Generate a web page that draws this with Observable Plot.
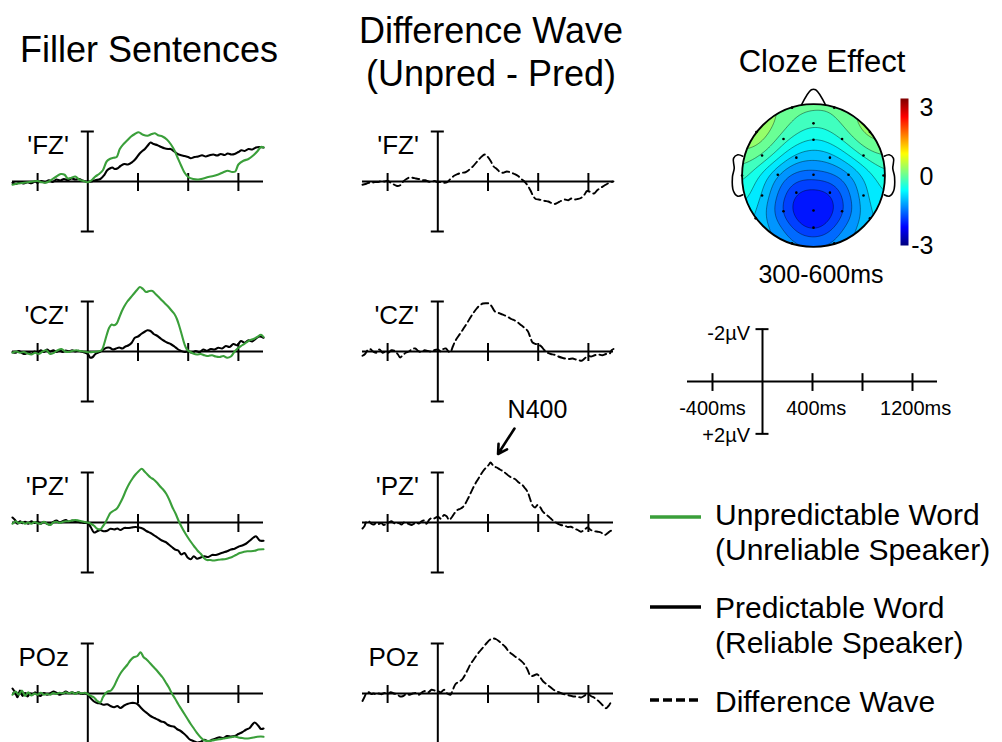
<!DOCTYPE html>
<html><head><meta charset="utf-8">
<script src="https://cdn.jsdelivr.net/npm/d3@7"></script>
<script src="https://cdn.jsdelivr.net/npm/@observablehq/plot@0.6"></script>
<style>
html,body{margin:0;padding:0;background:#fff;}
#root{position:relative;width:1002px;height:742px;overflow:hidden;font-family:"Liberation Sans",Arial,sans-serif;color:#000;background:#fff;}
#root svg{position:absolute;overflow:visible;}
</style></head><body><div id="root"></div>
<script>
// ---------- DATA (time ms, amplitude µV; negative plotted up) ----------
const electrodeLabels = ["'FZ'", "'CZ'", "'PZ'", "POz"];
const xTicks = [-400, 400, 800, 1200];
const timeRange = [-600, 1400];

const unpredFZ = [[-600,0.13],[-560,0.08],[-520,0.06],[-480,0.03],[-440,0.0],[-400,-0.02],[-370,0.03],[-340,0.05],[-310,0.0],[-280,-0.1],[-250,-0.2],[-215,-0.3],[-185,-0.27],[-160,-0.12],[-130,-0.15],[-100,-0.2],[-70,-0.08],[-40,-0.03],[0,0.03],[30,-0.05],[60,-0.2],[90,-0.3],[120,-0.45],[150,-0.8],[175,-0.9],[205,-0.95],[230,-0.98],[255,-1.3],[285,-1.5],[315,-1.65],[345,-1.8],[375,-1.9],[405,-1.97],[440,-1.87],[475,-1.83],[510,-1.9],[535,-1.93],[560,-1.85],[595,-1.8],[630,-1.68],[660,-1.5],[690,-1.25],[715,-0.96],[745,-0.62],[770,-0.36],[800,-0.18],[840,-0.1],[880,-0.08],[920,-0.12],[960,-0.18],[1000,-0.22],[1040,-0.28],[1080,-0.37],[1115,-0.43],[1150,-0.38],[1175,-0.4],[1200,-0.68],[1240,-0.83],[1280,-0.9],[1320,-1.05],[1350,-1.2],[1380,-1.38],[1400,-1.36]];
const predFZ = [[-600,0.05],[-570,0.1],[-540,0.02],[-510,0.08],[-480,0.03],[-450,0.07],[-420,0.0],[-400,0.05],[-370,-0.02],[-340,0.04],[-310,-0.05],[-280,0.02],[-250,-0.08],[-220,-0.04],[-190,-0.1],[-160,-0.06],[-130,-0.12],[-100,-0.08],[-70,-0.1],[-40,-0.04],[0,0.02],[30,0.0],[60,-0.05],[100,-0.1],[130,-0.25],[155,-0.45],[175,-0.52],[195,-0.56],[215,-0.5],[235,-0.52],[260,-0.62],[290,-0.7],[320,-0.68],[355,-0.78],[380,-0.9],[410,-1.1],[430,-1.2],[455,-1.3],[480,-1.45],[500,-1.56],[525,-1.5],[555,-1.45],[585,-1.38],[610,-1.33],[640,-1.3],[660,-1.3],[690,-1.2],[715,-1.1],[745,-1.05],[770,-1.02],[800,-0.98],[820,-0.93],[850,-0.98],[880,-1.0],[910,-1.05],[940,-1.0],[970,-1.05],[1000,-1.08],[1030,-1.04],[1060,-1.1],[1090,-1.06],[1115,-1.12],[1145,-1.08],[1170,-1.1],[1200,-1.18],[1225,-1.25],[1250,-1.22],[1280,-1.3],[1310,-1.28],[1340,-1.36],[1365,-1.38],[1400,-1.36]];
const unpredCZ = [[-600,0.05],[-570,0.0],[-540,0.05],[-510,0.02],[-480,0.08],[-450,0.12],[-420,0.05],[-390,0.1],[-360,0.0],[-330,-0.05],[-300,0.1],[-270,0.05],[-240,-0.05],[-210,-0.1],[-180,0.0],[-150,0.02],[-120,-0.03],[-90,-0.05],[-60,-0.02],[-30,0.0],[0,0.03],[40,0.02],[80,0.0],[110,-0.05],[130,-0.3],[150,-0.65],[170,-0.95],[190,-1.08],[210,-1.05],[230,-1.12],[250,-1.35],[270,-1.6],[290,-1.8],[315,-2.0],[340,-2.15],[365,-2.3],[390,-2.45],[415,-2.58],[440,-2.5],[465,-2.38],[490,-2.42],[515,-2.42],[540,-2.3],[565,-2.18],[590,-2.05],[615,-1.92],[640,-1.8],[665,-1.65],[690,-1.5],[710,-1.3],[730,-1.0],[750,-0.65],[770,-0.3],[790,-0.08],[810,0.0],[840,0.08],[870,0.12],[900,0.1],[930,0.15],[960,0.18],[990,0.15],[1020,0.2],[1050,0.22],[1080,0.18],[1110,0.25],[1140,0.2],[1170,0.0],[1200,-0.15],[1230,-0.25],[1260,-0.35],[1290,-0.45],[1320,-0.5],[1350,-0.58],[1380,-0.67],[1400,-0.58]];
const predCZ = [[-600,0.02],[-575,0.05],[-550,-0.02],[-525,0.06],[-500,0.1],[-475,0.03],[-450,0.1],[-425,0.0],[-400,0.05],[-375,-0.05],[-350,0.02],[-325,-0.08],[-300,0.0],[-275,-0.05],[-250,0.02],[-225,-0.05],[-200,0.02],[-175,-0.04],[-150,0.0],[-125,-0.05],[-100,0.0],[-75,-0.03],[-50,0.0],[-20,0.05],[0,0.1],[20,0.25],[40,0.22],[60,0.1],[80,0.05],[100,0.0],[125,-0.08],[150,-0.15],[175,-0.15],[200,-0.08],[225,-0.12],[250,-0.16],[275,-0.12],[300,-0.2],[325,-0.25],[350,-0.35],[375,-0.55],[400,-0.6],[425,-0.7],[450,-0.78],[475,-0.85],[500,-0.82],[525,-0.7],[555,-0.62],[585,-0.5],[610,-0.42],[635,-0.35],[660,-0.3],[690,-0.2],[715,-0.1],[740,-0.03],[770,0.02],[800,0.0],[830,0.05],[860,-0.02],[890,0.03],[920,-0.08],[950,-0.03],[980,-0.1],[1010,-0.08],[1040,-0.15],[1070,-0.12],[1100,-0.22],[1130,-0.18],[1160,-0.3],[1190,-0.25],[1220,-0.42],[1250,-0.35],[1280,-0.45],[1310,-0.4],[1340,-0.52],[1370,-0.6],[1400,-0.55]];
const unpredPZ = [[-600,0.05],[-575,-0.05],[-550,0.03],[-525,-0.02],[-500,0.05],[-475,0.0],[-450,0.05],[-425,-0.02],[-400,0.03],[-375,0.05],[-350,-0.03],[-325,0.05],[-300,0.1],[-275,0.0],[-250,-0.03],[-225,0.02],[-200,-0.02],[-175,-0.05],[-150,-0.05],[-125,-0.08],[-100,-0.1],[-75,-0.08],[-50,-0.05],[-25,-0.02],[0,0.0],[25,0.05],[50,0.13],[75,0.25],[100,0.27],[120,0.15],[140,0.0],[160,-0.2],[180,-0.38],[205,-0.47],[230,-0.55],[255,-0.75],[280,-1.0],[305,-1.3],[330,-1.55],[355,-1.75],[380,-1.92],[405,-2.05],[430,-2.15],[450,-2.05],[475,-1.92],[500,-1.8],[525,-1.72],[550,-1.6],[575,-1.45],[600,-1.32],[625,-1.15],[650,-0.9],[675,-0.6],[700,-0.35],[725,-0.05],[750,0.2],[775,0.42],[800,0.62],[825,0.8],[850,0.97],[875,1.13],[900,1.25],[925,1.42],[950,1.5],[975,1.5],[1000,1.52],[1030,1.5],[1060,1.48],[1090,1.47],[1120,1.43],[1150,1.38],[1180,1.3],[1210,1.22],[1240,1.18],[1270,1.15],[1300,1.15],[1330,1.13],[1360,1.08],[1400,1.07]];
const predPZ = [[-600,-0.2],[-580,-0.1],[-560,0.05],[-540,-0.05],[-520,0.03],[-500,-0.03],[-475,0.05],[-450,-0.05],[-425,0.02],[-400,-0.03],[-375,0.05],[-350,-0.02],[-325,0.05],[-300,0.08],[-275,-0.02],[-250,-0.08],[-225,0.0],[-200,-0.05],[-175,-0.1],[-150,-0.02],[-125,-0.08],[-100,-0.05],[-75,-0.02],[-50,0.0],[-25,0.02],[0,0.03],[25,0.2],[50,0.4],[75,0.35],[100,0.3],[125,0.35],[155,0.33],[180,0.25],[210,0.28],[235,0.24],[260,0.3],[290,0.22],[320,0.22],[350,0.2],[380,0.18],[410,0.2],[440,0.25],[470,0.35],[500,0.42],[530,0.52],[560,0.62],[590,0.72],[620,0.78],[645,0.88],[670,0.98],[695,1.08],[720,1.12],[745,1.28],[770,1.22],[795,1.4],[820,1.47],[845,1.35],[870,1.45],[900,1.4],[930,1.35],[960,1.38],[990,1.3],[1020,1.3],[1050,1.25],[1080,1.2],[1110,1.15],[1140,1.08],[1170,1.05],[1200,0.97],[1230,0.92],[1260,0.85],[1290,0.73],[1320,0.6],[1340,0.55],[1370,0.72],[1400,0.73]];
const unpredPOz = [[-600,0.05],[-575,-0.08],[-550,0.05],[-525,-0.12],[-500,0.1],[-475,-0.05],[-450,0.08],[-425,0.0],[-400,0.05],[-375,-0.03],[-350,0.05],[-325,0.02],[-300,0.05],[-275,-0.02],[-250,0.02],[-225,-0.03],[-200,0.0],[-175,-0.05],[-150,0.0],[-125,-0.05],[-100,0.02],[-75,-0.05],[-50,0.0],[-25,-0.03],[0,0.02],[25,0.1],[50,0.16],[75,0.3],[100,0.36],[120,0.15],[140,0.0],[160,-0.08],[185,-0.12],[210,-0.3],[235,-0.57],[260,-0.8],[290,-1.0],[315,-1.15],[340,-1.33],[365,-1.45],[395,-1.5],[420,-1.65],[445,-1.45],[470,-1.35],[495,-1.22],[520,-1.08],[545,-0.95],[570,-0.8],[595,-0.65],[620,-0.45],[645,-0.25],[670,0.0],[695,0.2],[720,0.42],[745,0.62],[770,0.82],[795,1.02],[820,1.22],[845,1.4],[870,1.58],[900,1.76],[930,1.88],[960,1.9],[990,1.88],[1020,1.85],[1050,1.83],[1080,1.8],[1110,1.78],[1140,1.75],[1170,1.72],[1200,1.76],[1230,1.78],[1260,1.8],[1290,1.79],[1320,1.76],[1350,1.73],[1380,1.72],[1400,1.73]];
const predPOz = [[-600,-0.2],[-580,-0.05],[-560,0.15],[-540,-0.12],[-520,0.1],[-500,-0.02],[-480,0.12],[-460,0.0],[-440,0.05],[-420,-0.05],[-400,0.05],[-375,0.1],[-350,-0.02],[-325,0.05],[-300,0.0],[-275,-0.08],[-250,-0.03],[-225,0.05],[-200,0.0],[-175,-0.08],[-150,-0.02],[-125,-0.05],[-100,0.0],[-75,-0.05],[-50,0.02],[-25,0.0],[0,0.05],[25,0.2],[50,0.32],[75,0.38],[100,0.4],[125,0.45],[155,0.43],[180,0.5],[210,0.55],[235,0.5],[260,0.58],[290,0.48],[315,0.42],[345,0.38],[370,0.38],[395,0.42],[420,0.55],[450,0.7],[475,0.8],[500,0.9],[530,0.98],[560,1.05],[585,1.12],[610,1.15],[635,1.25],[660,1.3],[685,1.32],[710,1.42],[740,1.5],[765,1.6],[790,1.72],[810,1.83],[840,1.9],[870,1.96],[900,1.93],[930,1.85],[960,1.92],[990,1.85],[1020,1.8],[1050,1.75],[1080,1.78],[1110,1.7],[1140,1.72],[1170,1.7],[1200,1.62],[1230,1.55],[1260,1.45],[1290,1.38],[1310,1.25],[1330,1.16],[1360,1.3],[1380,1.42],[1400,1.4]];

const diffFZ = [[-600,0.13],[-575,0.1],[-550,0.05],[-525,0.05],[-500,0.02],[-475,0.02],[-450,-0.02],[-425,0.0],[-400,-0.03],[-375,0.05],[-350,0.12],[-325,0.18],[-300,0.15],[-275,0.0],[-250,-0.1],[-225,-0.16],[-200,-0.15],[-175,-0.12],[-150,-0.1],[-125,-0.05],[-100,-0.05],[-75,0.0],[-50,0.02],[-25,-0.02],[0,0.03],[25,0.02],[50,0.05],[75,0.03],[100,-0.1],[130,-0.23],[160,-0.3],[190,-0.35],[215,-0.36],[245,-0.45],[275,-0.58],[305,-0.75],[330,-0.9],[355,-1.02],[375,-1.08],[395,-1.0],[420,-0.83],[445,-0.6],[470,-0.5],[495,-0.38],[520,-0.35],[550,-0.4],[580,-0.36],[610,-0.3],[640,-0.22],[665,-0.1],[690,0.0],[715,0.15],[740,0.37],[760,0.58],[780,0.7],[805,0.72],[830,0.75],[855,0.78],[880,0.8],[905,0.86],[930,0.9],[955,0.85],[980,0.78],[1010,0.72],[1040,0.75],[1065,0.68],[1090,0.72],[1115,0.7],[1140,0.66],[1165,0.55],[1190,0.38],[1215,0.42],[1245,0.48],[1270,0.35],[1300,0.25],[1330,0.15],[1355,0.08],[1380,0.02],[1400,0.0]];
const diffCZ = [[-600,0.17],[-580,0.1],[-560,-0.05],[-540,-0.1],[-515,0.0],[-490,0.05],[-465,-0.08],[-440,0.05],[-415,0.0],[-395,0.05],[-370,-0.05],[-345,-0.03],[-320,0.1],[-300,0.24],[-280,0.15],[-255,0.05],[-230,0.0],[-205,-0.1],[-180,-0.12],[-155,-0.02],[-130,0.03],[-105,-0.05],[-80,-0.02],[-55,0.0],[-30,-0.05],[0,-0.08],[25,0.0],[45,-0.1],[65,-0.12],[85,0.0],[100,0.02],[120,-0.2],[140,-0.43],[165,-0.62],[190,-0.8],[210,-0.96],[235,-1.15],[260,-1.36],[285,-1.55],[310,-1.72],[335,-1.85],[360,-1.92],[385,-1.93],[410,-1.92],[430,-1.8],[455,-1.6],[480,-1.55],[505,-1.5],[530,-1.45],[560,-1.38],[585,-1.3],[610,-1.25],[640,-1.15],[665,-1.05],[690,-0.95],[715,-0.83],[735,-0.6],[755,-0.36],[780,-0.3],[800,-0.28],[825,-0.2],[850,-0.05],[875,0.05],[900,0.1],[930,0.13],[960,0.2],[990,0.25],[1015,0.28],[1045,0.3],[1075,0.28],[1100,0.32],[1125,0.35],[1145,0.37],[1170,0.28],[1195,0.17],[1220,0.2],[1250,0.15],[1280,0.12],[1310,0.15],[1340,0.1],[1370,0.08],[1385,-0.05],[1400,-0.1]];
const diffPZ = [[-600,0.24],[-585,0.15],[-570,-0.02],[-550,-0.05],[-530,0.05],[-510,0.08],[-490,0.02],[-470,0.06],[-450,0.02],[-430,0.1],[-410,0.05],[-390,0.0],[-370,-0.05],[-350,0.02],[-330,0.06],[-310,0.02],[-290,0.08],[-270,0.0],[-250,0.02],[-230,0.06],[-210,0.1],[-190,0.05],[-170,0.0],[-150,0.04],[-130,-0.05],[-110,-0.08],[-90,0.05],[-70,-0.1],[-50,-0.18],[-30,-0.16],[0,-0.23],[25,-0.15],[50,-0.3],[70,-0.25],[90,-0.1],[110,-0.2],[130,-0.35],[155,-0.5],[180,-0.55],[200,-0.62],[220,-0.76],[240,-0.95],[260,-1.16],[285,-1.42],[310,-1.65],[335,-1.85],[360,-2.05],[385,-2.2],[405,-2.3],[420,-2.4],[445,-2.25],[470,-2.2],[495,-2.12],[520,-2.05],[545,-1.95],[570,-1.85],[595,-1.78],[620,-1.72],[645,-1.6],[670,-1.52],[690,-1.4],[715,-1.23],[735,-0.95],[755,-0.68],[775,-0.6],[795,-0.7],[815,-0.62],[835,-0.45],[855,-0.35],[880,-0.25],[900,-0.16],[925,-0.05],[950,0.03],[980,0.1],[1010,0.12],[1035,0.18],[1060,0.17],[1090,0.25],[1115,0.3],[1140,0.37],[1165,0.3],[1195,0.2],[1220,0.3],[1250,0.35],[1275,0.37],[1300,0.4],[1330,0.5],[1355,0.42],[1380,0.33],[1400,0.38]];
const diffPOz = [[-600,0.3],[-585,0.15],[-570,0.0],[-550,-0.05],[-530,0.02],[-510,0.0],[-490,0.05],[-470,0.0],[-450,0.03],[-425,-0.02],[-400,0.02],[-375,-0.05],[-350,0.0],[-325,0.03],[-300,0.12],[-275,0.1],[-250,0.02],[-225,0.05],[-200,0.0],[-175,-0.02],[-150,0.05],[-125,-0.05],[-100,-0.1],[-75,-0.05],[-50,-0.15],[-25,-0.12],[0,-0.1],[25,-0.05],[50,-0.15],[75,0.0],[100,0.05],[120,-0.15],[140,-0.37],[160,-0.45],[180,-0.5],[200,-0.6],[220,-0.77],[240,-0.97],[260,-1.17],[285,-1.35],[315,-1.57],[340,-1.72],[365,-1.87],[390,-2.02],[415,-2.15],[440,-2.2],[465,-2.17],[490,-2.08],[515,-1.97],[540,-1.85],[565,-1.68],[590,-1.58],[615,-1.48],[640,-1.4],[665,-1.3],[690,-1.17],[715,-0.95],[740,-0.7],[765,-0.72],[790,-0.77],[815,-0.65],[840,-0.48],[865,-0.38],[890,-0.28],[915,-0.18],[940,-0.1],[965,-0.05],[990,0.0],[1020,0.05],[1050,0.08],[1080,0.12],[1110,0.12],[1140,0.16],[1165,0.1],[1195,0.0],[1220,0.1],[1250,0.18],[1280,0.3],[1310,0.45],[1340,0.59],[1360,0.5],[1380,0.36],[1400,0.32]];

// Topographic map: electrode positions (unit head circle) and cloze effect (µV, 300-600ms)
const electrodeNames = ["Fp1","Fp2","AFz","F7","F8","F3","Fz","F4","FC5","FC1","FC2","FC6","T7","C3","Cz","C4","T8","CP5","CP1","CP2","CP6","P7","P3","Pz","P4","P8","POz","O1","O2"];
const electrodeX = [-0.30,0.29,0.0,-0.80,0.79,-0.42,0.0,0.40,-0.72,-0.24,0.23,0.70,-1.0,-0.50,0.0,0.49,0.98,-0.72,-0.24,0.23,0.70,-0.81,-0.42,0.0,0.40,0.79,0.0,-0.30,0.29];
const electrodeY = [0.95,0.95,0.73,0.61,0.61,0.51,0.50,0.51,0.28,0.25,0.25,0.28,0.0,0.01,0.01,0.01,0.0,-0.28,-0.24,-0.24,-0.28,-0.60,-0.50,-0.49,-0.50,-0.60,-0.73,-0.95,-0.95];
const clozeEffect = [0.0,-0.05,-0.35,0.45,0.35,-0.25,-0.7,-0.35,-0.05,-1.05,-1.05,-0.3,-0.25,-1.2,-1.5,-1.25,-0.45,-0.85,-2.0,-2.0,-0.95,-0.85,-1.8,-2.35,-1.8,-0.85,-2.2,-1.25,-1.25];
const colorTicks = [3, 0, -3];

// Scale-bar labels
const scaleTimeLabels = [{t: -400, text: "-400ms"}, {t: 430, text: "400ms"}, {t: 1225, text: "1200ms"}];

// ---------- LAYOUT ----------
const GREEN = "#3a9f3a";
const FONT = "Liberation Sans, Arial, sans-serif";
const root = document.getElementById("root");
function place(el, left, top) { el.style.left = left + "px"; el.style.top = top + "px"; root.appendChild(el); return el; }

const jet = {type: "linear", domain: [-3, -2.25, -0.75, 0.75, 2.25, 3],
  range: ["#00007f", "#0000ff", "#00ffff", "#ffff00", "#ff0000", "#7f0000"], interpolate: "rgb"};

function axisMarks(yTickLo, yTickHi) {
  return [
    Plot.ruleY([0], {x1: timeRange[0], x2: timeRange[1], stroke: "#000", strokeWidth: 2}),
    Plot.ruleX(xTicks, {x: d => d, y1: yTickLo, y2: yTickHi, stroke: "#000", strokeWidth: 2}),
    Plot.ruleX([0], {y1: -2, y2: 2, stroke: "#000", strokeWidth: 2}),
    Plot.ruleY([-2, 2], {y: d => d, x1: -52, x2: 52, stroke: "#000", strokeWidth: 2})
  ];
}

function erpPanel(lines, label, extra = []) {
  return Plot.plot({
    width: 290, height: 170, marginLeft: 12, marginRight: 27, marginTop: 0, marginBottom: 0,
    x: {domain: timeRange, axis: null},
    y: {domain: [-3.4, 3.4], reverse: true, axis: null},
    style: {fontFamily: FONT, background: "transparent", overflow: "visible", color: "#000"},
    marks: [
      ...axisMarks(-0.32, 0.4),
      ...lines.map(s => Plot.line(s.data, {x: d => d[0], y: d => d[1], stroke: s.color,
        strokeWidth: s.width || 2.1, strokeDasharray: s.dash, curve: "catmull-rom", strokeLinejoin: "round"})),
      Plot.text([label], {x: -150, y: -1.44, text: d => d, textAnchor: "end", fontSize: 26, fill: "#000"}),
      ...extra
    ]
  });
}

const rowTops = [96, 266, 437, 608];
const fillerPairs = [[unpredFZ, predFZ], [unpredCZ, predCZ], [unpredPZ, predPZ], [unpredPOz, predPOz]];
const diffs = [diffFZ, diffCZ, diffPZ, diffPOz];

rowTops.forEach((top, i) => {
  place(erpPanel([
    {data: fillerPairs[i][1], color: "#000"},
    {data: fillerPairs[i][0], color: GREEN}
  ], electrodeLabels[i]), 0, top);
  const extra = i === 2 ? [
    Plot.arrow([{x1: 611, y1: -3.76, x2: 480, y2: -2.74}], {x1: "x1", y1: "y1", x2: "x2", y2: "y2",
      stroke: "#000", strokeWidth: 2.6, headLength: 12, headAngle: 60}),
    Plot.text(["N400"], {x: 794, y: -4.5, text: d => d, fontSize: 25, fill: "#000"})
  ] : [];
  place(erpPanel([{data: diffs[i], color: "#000", dash: "7,4", width: 1.9}], electrodeLabels[i], extra), 350, top);
});

// Scale bar
const scaleSvg = Plot.plot({
  width: 290, height: 178, marginLeft: 12, marginRight: 28, marginTop: 0, marginBottom: 0,
  x: {domain: timeRange, axis: null},
  y: {domain: [-3.4, 3.4], reverse: true, axis: null},
  style: {fontFamily: FONT, background: "transparent", overflow: "visible", color: "#000"},
  marks: [
    ...axisMarks(-0.3, 0.38),
    Plot.text(["-2µV"], {x: -100, y: -1.83, text: d => d, textAnchor: "end", fontSize: 20, fill: "#000"}),
    Plot.text(["+2µV"], {x: -100, y: 2.06, text: d => d, textAnchor: "end", fontSize: 20, fill: "#000"}),
    Plot.text(scaleTimeLabels, {x: "t", y: 1.03, text: "text", fontSize: 20, fill: "#000"})
  ]
});
place(scaleSvg, 675, 292);

// Topographic map
const electrodes = electrodeNames.map((name, i) => ({name, x: electrodeX[i], y: electrodeY[i], v: clozeEffect[i]}));
const R = 200 / 2.8;
const nose = [[-0.17, 0.985], [-0.03, 1.2], [0.03, 1.2], [0.17, 0.985]];
const earL = [[-0.99, 0.27], [-1.06, 0.29], [-1.12, 0.24], [-1.11, 0.1], [-1.135, -0.02], [-1.12, -0.22], [-1.06, -0.29], [-0.99, -0.27]];
const earR = earL.map(([x, y]) => [-x, y]);
const topo = Plot.plot({
  width: 200, height: 200, margin: 0,
  x: {domain: [-1.4, 1.4], axis: null},
  y: {domain: [-1.4, 1.4], axis: null},
  color: jet,
  style: {background: "transparent", overflow: "visible"},
  marks: [
    Plot.contour(electrodes, {x: "x", y: "y", fill: "v", interpolate: "barycentric", blur: 6,
      x1: -1.05, x2: 1.05, y1: -1.05, y2: 1.05, pixelSize: 1.5,
      thresholds: d3.range(-2.875, 3, 0.25), stroke: "#000", strokeWidth: 0.5, strokeOpacity: 0.8}),
    Plot.dot(electrodes, {x: "x", y: "y", r: 1.3, fill: "#000"}),
    Plot.line(nose, {x: d => d[0], y: d => d[1], stroke: "#000", strokeWidth: 1.6, curve: "catmull-rom"}),
    Plot.line(earL, {x: d => d[0], y: d => d[1], stroke: "#000", strokeWidth: 1.6, curve: "catmull-rom"}),
    Plot.line(earR, {x: d => d[0], y: d => d[1], stroke: "#000", strokeWidth: 1.6, curve: "catmull-rom"}),
    Plot.dot([{x: 0, y: 0}], {x: "x", y: "y", r: R, stroke: "#000", strokeWidth: 1.8, fill: "none"})
  ]
});
place(topo, 713, 75);
{
  const sx = topo.scale("x"), sy = topo.scale("y");
  const s = d3.select(topo);
  s.insert("defs", ":first-child").append("clipPath").attr("id", "headclip")
    .append("circle").attr("cx", sx.apply(0)).attr("cy", sy.apply(0)).attr("r", R);
  s.selectAll('g[aria-label="contour"]').attr("clip-path", "url(#headclip)");
}

// Colorbar
const cbar = Plot.plot({
  width: 50, height: 165, marginLeft: 10, marginRight: 32, marginTop: 8, marginBottom: 10,
  x: {domain: [0, 1], axis: null},
  y: {domain: [-3, 3], axis: null},
  color: jet,
  style: {fontFamily: FONT, background: "transparent", overflow: "visible", color: "#000"},
  marks: [
    Plot.raster({fill: (x, y) => y, x1: 0, x2: 1, y1: -3, y2: 3, pixelSize: 1, imageRendering: "auto"}),
    Plot.text([colorTicks[0]], {x: 1, y: d => d, text: d => String(d), dx: 25, dy: 9, textAnchor: "end", fontSize: 25, fill: "#000"}),
    Plot.text([colorTicks[1]], {x: 1, y: d => d, text: d => String(d), dx: 25, dy: 5, textAnchor: "end", fontSize: 25, fill: "#000"}),
    Plot.text([colorTicks[2]], {x: 1, y: d => d, text: d => String(d), dx: 25, dy: 0, textAnchor: "end", fontSize: 25, fill: "#000"})
  ]
});
place(cbar, 890, 90);

// Titles and legend (text overlay)
const overlay = d3.select(root).append("svg").attr("width", 1002).attr("height", 742)
  .style("left", "0px").style("top", "0px").style("pointer-events", "none")
  .style("font-family", FONT);
const texts = [
  {x: 149, y: 62, s: 36, a: "middle", t: "Filler Sentences"},
  {x: 491, y: 43, s: 36, a: "middle", t: "Difference Wave"},
  {x: 491, y: 86, s: 36, a: "middle", t: "(Unpred - Pred)"},
  {x: 822, y: 72, s: 31, a: "middle", t: "Cloze Effect"},
  {x: 821, y: 283, s: 25, a: "middle", t: "300-600ms"},
  {x: 715, y: 525, s: 30, a: "start", t: "Unpredictable Word"},
  {x: 715, y: 560, s: 30, a: "start", t: "(Unreliable Speaker)"},
  {x: 715, y: 618, s: 30, a: "start", t: "Predictable Word"},
  {x: 715, y: 653, s: 30, a: "start", t: "(Reliable Speaker)"},
  {x: 715, y: 712, s: 30, a: "start", t: "Difference Wave"}
];
overlay.selectAll("text").data(texts).join("text")
  .attr("x", d => d.x).attr("y", d => d.y).attr("font-size", d => d.s)
  .attr("text-anchor", d => d.a).attr("fill", "#000").text(d => d.t);
const swatches = [
  {y: 517, c: GREEN, dash: null},
  {y: 607, c: "#000", dash: null},
  {y: 700, c: "#000", dash: "9,4"}
];
overlay.selectAll("line").data(swatches).join("line")
  .attr("x1", 650).attr("x2", 701).attr("y1", d => d.y).attr("y2", d => d.y)
  .attr("stroke", d => d.c).attr("stroke-width", 3.5).attr("stroke-dasharray", d => d.dash);
</script></body></html>
